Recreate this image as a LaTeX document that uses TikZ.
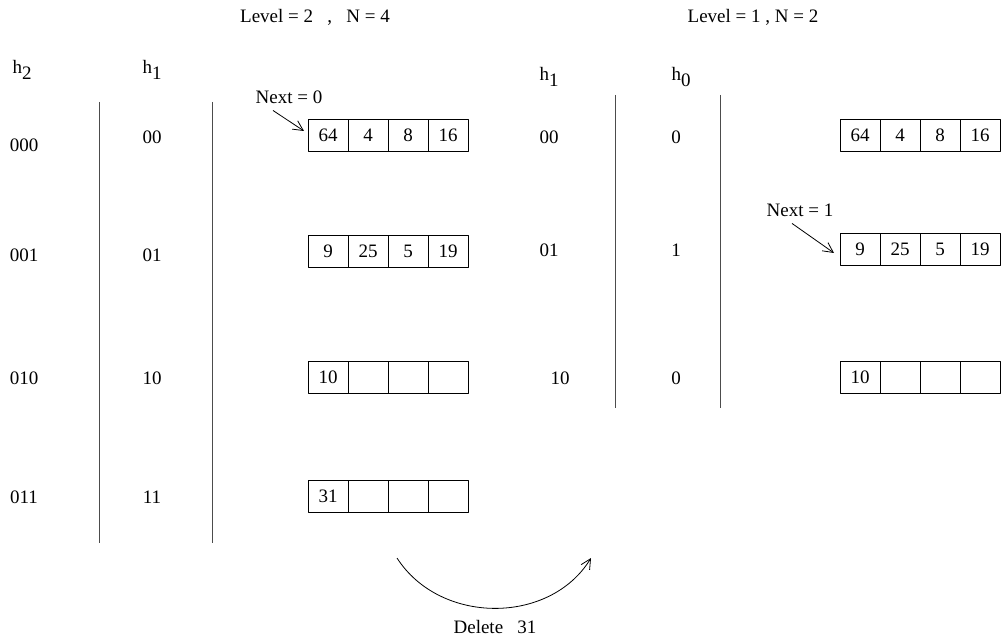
\documentclass[tikz,border=0pt]{standalone}
\usepackage{fontspec}
\setmainfont{Liberation Serif}
\usetikzlibrary{positioning,arrows.meta}
\begin{document}
\begin{tikzpicture}[x=0.5pt, y=-0.5pt, font=\fontsize{9.5}{11}\selectfont, line join=round, >={Straight Barb[length=5pt,width=5pt]}]
		\tikzset{cell/.style={draw, minimum width=20pt, minimum height=16pt, inner sep=0pt, outer sep=0pt}}
		\def\hh#1{h\raisebox{-0.6ex}{#1}}
		\def\bucket#1#2#3#4#5#6{% name, centre of first cell, four keys
			\node[cell] (#1a) at (#2) {#3};
			\node[cell, right=0pt of #1a] (#1b) {#4};
			\node[cell, right=0pt of #1b] (#1c) {#5};
			\node[cell, right=0pt of #1c] (#1d) {#6};}
		\useasboundingbox (0,0) rectangle (1004,641);
		% before the delete
		\node (lvlL) at (315,17) {Level = 2 \ \ , \ \ N = 4};
		\node (hL2) at (22,70) {\hh{2}};
		\node (hL1) at (152,70) {\hh{1}};
		\draw[gray!60!black] (99,102)--(99,543) (212,102)--(212,543);
		\foreach \y/\a/\b/\ya in {145/000/00/137, 255/001/01/255, 378/010/10/378, 497/011/11/497}
		{\node (k\a) at (24,\y) {\a}; \node (m\a) at (152,\ya) {\b};}
		\bucket{A}{328,135}{64}{4}{8}{16}
		\bucket{B}{328,251}{9}{25}{5}{19}
		\bucket{C}{328,377}{10}{}{}{}
		\bucket{D}{328,496}{31}{}{}{}
		\node (next0) at (289,97) {Next = 0};
		\draw[->] ([xshift=-8pt]next0.south) -- ([xshift=-2pt,yshift=2pt]Aa.west);
		% after the delete
		\node (lvlR) at (753,17) {Level = 1 , N = 2};
		\node (hR1) at (549,77) {\hh{1}};
		\node (hR0) at (681,77) {\hh{0}};
		\draw[gray!60!black] (615,95)--(615,408) (720,95)--(720,408);
		\foreach \y/\a/\b/\xa in {137/00/0/549, 250/01/1/549, 378/10/0/560}
		{\node (p\a) at (\xa,\y) {\a}; \node (q\a) at (676,\y) {\b};}
		\bucket{E}{860,135}{64}{4}{8}{16}
		\bucket{F}{860,249}{9}{25}{5}{19}
		\bucket{G}{860,377}{10}{}{}{}
		\node (next1) at (800,210) {Next = 1};
		\draw[->] ([xshift=-4pt]next1.south) -- ([xshift=-3pt,yshift=-2pt]Fa.west);
		% the delete
		\coordinate (d1) at (397,558);
		\coordinate (d2) at (591,558);
		\draw[->] (d1) .. controls (440,625) and (550,625) .. (d2);
		\node (del) at (495,627) {Delete \ \ 31};
		\end{tikzpicture}
\end{document}
